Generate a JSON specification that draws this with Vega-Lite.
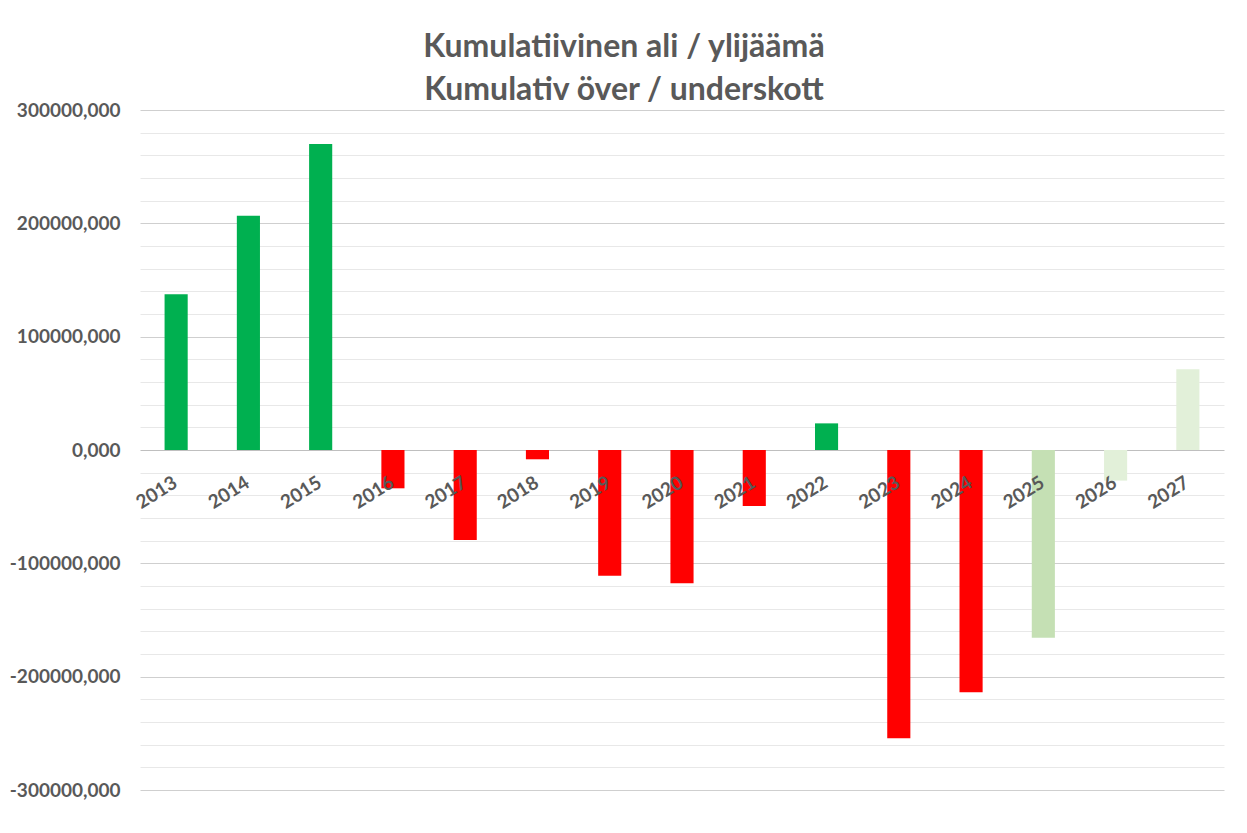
{
  "$schema": "https://vega.github.io/schema/vega-lite/v6.json",
  "width": 1084,
  "height": 680,
  "autosize": {"type": "none"},
  "padding": {"left": 140, "top": 110, "right": 23, "bottom": 43},
  "background": "white",
  "config": {"view": {"stroke": null}, "font": "Lato"},
  "title": {
    "text": ["Kumulatiivinen ali / ylijäämä", "Kumulativ över / underskott"],
    "fontSize": 32,
    "fontWeight": "bold",
    "color": "#595959",
    "font": "Lato",
    "anchor": "middle",
    "dx": -58,
    "offset": -6,
    "lineHeight": 43
  },
  "data": {
    "values": [
      {"year": "2013", "value": 137500, "type": "surplus"},
      {"year": "2014", "value": 206800, "type": "surplus"},
      {"year": "2015", "value": 270000, "type": "surplus"},
      {"year": "2016", "value": -33800, "type": "deficit"},
      {"year": "2017", "value": -79400, "type": "deficit"},
      {"year": "2018", "value": -8200, "type": "deficit"},
      {"year": "2019", "value": -111000, "type": "deficit"},
      {"year": "2020", "value": -117600, "type": "deficit"},
      {"year": "2021", "value": -49400, "type": "deficit"},
      {"year": "2022", "value": 23500, "type": "surplus"},
      {"year": "2023", "value": -254400, "type": "deficit"},
      {"year": "2024", "value": -213800, "type": "deficit"},
      {"year": "2025", "value": -165600, "type": "estimate"},
      {"year": "2026", "value": -27000, "type": "plan"},
      {"year": "2027", "value": 71200, "type": "plan"}
    ]
  },
  "layer": [
    {
      "mark": {"type": "bar"},
      "encoding": {
        "x": {
          "field": "year",
          "type": "ordinal",
          "sort": null,
          "scale": {"paddingInner": 0.68, "paddingOuter": 0.34},
          "axis": null
        },
        "y": {
          "field": "value",
          "type": "quantitative",
          "scale": {"domain": [-300000, 300000], "nice": false, "zero": true},
          "axis": {
            "title": null,
            "ticks": false,
            "domain": false,
            "labelPadding": 20,
            "labelFontSize": 19,
            "labelFontWeight": "bold",
            "labelColor": "#595959",
            "labelFont": "Lato",
            "labelOverlap": false,
            "tickCount": 60,
            "values": [-300000, -280000, -260000, -240000, -220000, -200000, -180000, -160000, -140000, -120000, -100000, -80000, -60000, -40000, -20000, 0, 20000, 40000, 60000, 80000, 100000, 120000, 140000, 160000, 180000, 200000, 220000, 240000, 260000, 280000, 300000],
            "labelExpr": "datum.value % 100000 === 0 ? (datum.value < 0 ? '-' : '') + replace(format(abs(datum.value), '.3f'), '.', ',') : ''",
            "gridColor": {
              "condition": [
                {"test": "datum.value === 0", "value": "#bfbfbf"},
                {"test": "datum.value % 100000 === 0", "value": "#cfcfcf"}
              ],
              "value": "#e8e8e8"
            },
            "gridWidth": 1
          }
        },
        "color": {
          "field": "type",
          "type": "nominal",
          "scale": {
            "domain": ["surplus", "deficit", "estimate", "plan"],
            "range": ["#00B050", "#FF0000", "#C5E0B4", "#E2F0D9"]
          },
          "legend": null
        }
      }
    },
    {
      "mark": {
        "type": "text",
        "angle": -32,
        "align": "right",
        "baseline": "top",
        "dx": -17,
        "dy": 17,
        "fontSize": 19,
        "fontWeight": "bold",
        "font": "Lato",
        "color": "#595959"
      },
      "encoding": {
        "x": {"field": "year", "type": "ordinal", "sort": null},
        "y": {"datum": 0, "type": "quantitative"},
        "text": {"field": "year"}
      }
    }
  ]
}
